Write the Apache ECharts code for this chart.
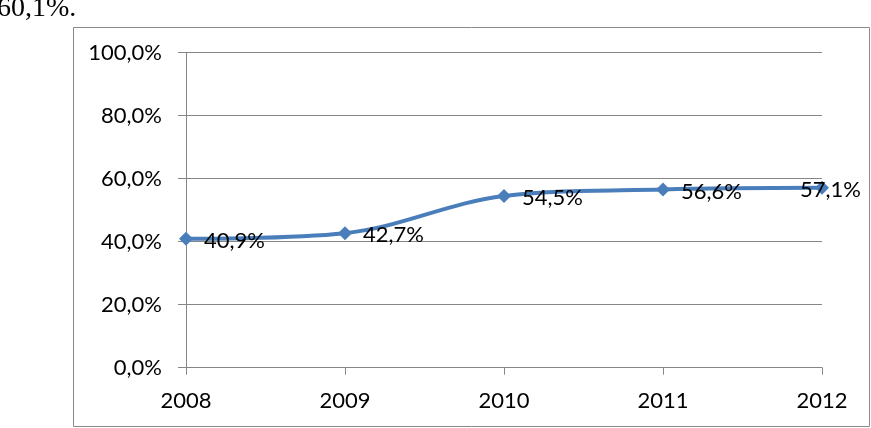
<!DOCTYPE html>
<html><head><meta charset="utf-8">
<script src="https://cdn.jsdelivr.net/npm/echarts@6/dist/echarts.min.js"></script>
<style>html,body{margin:0;padding:0;background:#fff}#c{width:871px;height:428px}</style>
</head><body><div id="c"></div>
<script>
const categories = ['2008', '2009', '2010', '2011', '2012'];
const values = [40.9, 42.7, 54.5, 56.6, 57.1];
const yTicks = [0, 20, 40, 60, 80, 100];
const headText = '60,1%.';

const fmt = v => v.toFixed(1).replace('.', ',') + '%';
const chart = echarts.init(document.getElementById('c'));
const font = 'Lato, "Open Sans", sans-serif';
const data = values.map((v, i) => {
  const d = { value: v };
  if (i === values.length - 1) d.label = { offset: [-40, 2] };
  return d;
});
chart.setOption({
  animation: false,
  grid: { left: 186, right: 49, top: 52.7, bottom: 60.3, containLabel: false },
  graphic: [
    { type: 'rect', shape: { x: 73.5, y: 27.5, width: 796, height: 399 },
      style: { fill: 'none', stroke: '#8a8a8a', lineWidth: 1 }, silent: true },
    { type: 'text', left: -3, top: -5,
      style: { text: headText, font: '28px "Liberation Serif", "Times New Roman", serif', fill: '#000' } }
  ],
  xAxis: {
    type: 'category', data: categories, boundaryGap: false,
    axisLine: { lineStyle: { color: '#868686', width: 1 } },
    axisTick: { show: true, length: 7, lineStyle: { color: '#868686' } },
    axisLabel: { color: '#000', fontFamily: font, fontSize: 22, margin: 22 }
  },
  yAxis: {
    type: 'value', min: 0, max: 100, interval: 20,
    axisLine: { show: true, lineStyle: { color: '#868686', width: 1 } },
    axisTick: { show: true, length: 8, lineStyle: { color: '#868686' } },
    splitLine: { lineStyle: { color: '#868686', width: 1 } },
    axisLabel: { color: '#000', fontFamily: font, fontSize: 22, margin: 24,
      formatter: v => yTicks.includes(v) ? fmt(v) : '' }
  },
  series: [{
    type: 'line', data: data, smooth: 0.35,
    symbol: 'diamond', symbolSize: 14,
    lineStyle: { color: '#4a7ebb', width: 4 },
    itemStyle: { color: '#4a7ebb' },
    label: { show: true, position: 'right', distance: 11, offset: [0, 2],
      color: '#000', fontFamily: font, fontSize: 22, formatter: p => fmt(p.value) }
  }]
});
</script></body></html>
